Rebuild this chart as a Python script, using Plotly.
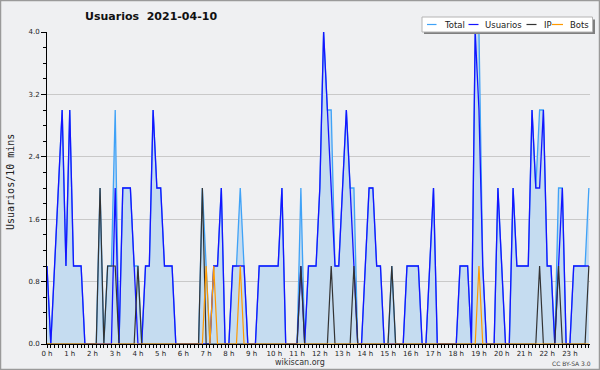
import plotly.graph_objects as go

# 10-minute slots over the day (144 slots)
hour_labels = [f"{h} h" for h in range(24)]
y_tick_labels = ["0.0", "0.8", "1.6", "2.4", "3.2", "4.0"]
y_tick_values = [0, 0.8, 1.6, 2.4, 3.2, 4.0]

usuarios = [
    1, 0, 1, 2, 3, 1,   3, 1, 1, 1, 0, 0,   0, 0, 0, 0, 0, 0,   2, 0, 2, 2, 2, 1,
    0, 0, 1, 1, 3, 2,   2, 1, 1, 1, 0, 0,   0, 0, 0, 0, 0, 0,   0, 0, 1, 1, 2, 0,
    0, 1, 1, 1, 1, 0,   0, 0, 1, 1, 1, 1,   1, 1, 2, 0, 0, 0,   0, 1, 0, 1, 1, 1,
    2, 4, 3, 2, 1, 1,   2, 3, 2, 1, 0, 0,   1, 2, 2, 1, 1, 0,   0, 0, 0, 0, 0, 1,
    1, 1, 1, 0, 0, 1,   2, 0, 0, 0, 0, 0,   0, 1, 1, 1, 0, 4,   3, 1, 0, 0, 0, 2,
    1, 0, 0, 2, 1, 1,   1, 1, 3, 2, 2, 3,   1, 1, 0, 1, 2, 0,   0, 1, 1, 1, 1, 1,
]
ip = [
    0, 0, 0, 0, 0, 0,   0, 0, 0, 0, 0, 0,   0, 0, 2, 0, 1, 1,   1, 0, 0, 0, 0, 0,
    1, 0, 0, 0, 0, 0,   0, 0, 0, 0, 0, 0,   0, 0, 0, 0, 0, 2,   0, 0, 0, 0, 0, 0,
    0, 0, 0, 0, 0, 0,   0, 0, 0, 0, 0, 0,   0, 0, 0, 0, 0, 0,   0, 1, 0, 0, 0, 0,
    0, 0, 0, 1, 0, 0,   0, 0, 0, 1, 0, 0,   0, 0, 0, 0, 0, 0,   0, 1, 0, 0, 0, 0,
    0, 0, 0, 0, 0, 0,   0, 0, 0, 0, 0, 0,   0, 0, 0, 0, 0, 0,   0, 0, 0, 0, 0, 0,
    0, 0, 0, 0, 0, 0,   0, 0, 0, 0, 1, 0,   0, 0, 0, 1, 0, 0,   0, 0, 0, 0, 0, 1,
]
bots = [
    0, 0, 0, 0, 0, 0,   0, 0, 0, 0, 0, 0,   0, 0, 0, 0, 0, 0,   0, 0, 0, 0, 0, 0,
    0, 0, 0, 0, 0, 0,   0, 0, 0, 0, 0, 0,   0, 0, 0, 0, 0, 0,   1, 0, 1, 0, 0, 0,
    0, 0, 0, 1, 0, 0,   0, 0, 0, 0, 0, 0,   0, 0, 0, 0, 0, 0,   0, 0, 0, 0, 0, 0,
    0, 0, 0, 0, 0, 0,   0, 0, 0, 0, 0, 0,   0, 0, 0, 0, 0, 0,   0, 0, 0, 0, 0, 0,
    0, 0, 0, 0, 0, 0,   0, 0, 0, 0, 0, 0,   0, 0, 0, 0, 0, 0,   1, 0, 0, 0, 0, 0,
    0, 0, 0, 0, 0, 0,   0, 0, 0, 0, 0, 0,   0, 0, 0, 0, 0, 0,   0, 0, 0, 0, 0, 0,
]
total = [
    1, 0, 1, 2, 3, 1,   3, 1, 1, 1, 0, 0,   0, 0, 2, 0, 1, 1,   3, 0, 2, 2, 2, 1,
    1, 0, 1, 1, 3, 2,   2, 1, 1, 1, 0, 0,   0, 0, 0, 0, 0, 2,   1, 0, 1, 1, 2, 0,
    0, 1, 1, 2, 1, 0,   0, 0, 1, 1, 1, 1,   1, 1, 2, 0, 0, 0,   0, 2, 0, 1, 1, 1,
    2, 4, 3, 3, 1, 1,   2, 3, 2, 2, 0, 0,   1, 2, 2, 1, 1, 0,   0, 1, 0, 0, 0, 1,
    1, 1, 1, 0, 0, 1,   2, 0, 0, 0, 0, 0,   0, 1, 1, 1, 0, 4,   4, 1, 0, 0, 0, 2,
    1, 0, 0, 2, 1, 1,   1, 1, 3, 2, 3, 3,   1, 1, 0, 2, 2, 0,   0, 1, 1, 1, 1, 2,
]
slots = list(range(len(total)))

W, H = 600, 370
L, R, T, B = 47, 10, 32, 26
PW, PH = W - L - R, H - T - B


def px(x):
    return (x - L) / PW


def py(y):
    return (H - B - y) / PH


C_TOTAL = "#3fa2f7"
C_USU = "#1414ff"
C_IP = "#333333"
C_BOTS = "#ff9a00"
BG = "#eff0f2"

fig = go.Figure()
fig.add_trace(go.Scatter(x=slots, y=total, mode="lines", name="Total",
                         line=dict(color=C_TOTAL, width=1.3),
                         fill="tozeroy", fillcolor="#c5dcf0"))
fig.add_trace(go.Scatter(x=slots, y=usuarios, mode="lines", name="Usuarios",
                         line=dict(color=C_USU, width=1.3)))
fig.add_trace(go.Scatter(x=slots, y=ip, mode="lines", name="IP",
                         line=dict(color=C_IP, width=1.2)))
fig.add_trace(go.Scatter(x=slots, y=bots, mode="lines", name="Bots",
                         line=dict(color=C_BOTS, width=1.2)))

shapes = []
# outer frame
shapes.append(dict(type="rect", xref="paper", yref="paper",
                   x0=px(0.5), x1=px(W - 0.5), y0=py(0.5), y1=py(H - 0.5),
                   line=dict(color="#9a9a9a", width=1.5), fillcolor="rgba(0,0,0,0)",
                   layer="above"))
# legend shadow + box
shapes.append(dict(type="rect", xref="paper", yref="paper",
                   x0=px(424), x1=px(595), y0=py(19.5), y1=py(34),
                   line=dict(width=0), fillcolor="#7f7f7f", layer="above"))
shapes.append(dict(type="rect", xref="paper", yref="paper",
                   x0=px(422), x1=px(592.5), y0=py(17), y1=py(32),
                   line=dict(color="#b4b4b4", width=1), fillcolor="#ffffff", layer="above"))

legend_items = [("Total", C_TOTAL, 427, 436.5, 441.5),
                ("Usuarios", C_USU, 468.5, 478.5, 483),
                ("IP", C_IP, 526.5, 536.5, 541.5),
                ("Bots", C_BOTS, 552, 563, 567.5)]
annotations = []
for name, col, lx0, lx1, tx in legend_items:
    shapes.append(dict(type="line", xref="paper", yref="paper",
                       x0=px(lx0), x1=px(lx1), y0=py(24.5), y1=py(24.5),
                       line=dict(color=col, width=1.2), layer="above"))
    annotations.append(dict(text=name, xref="paper", yref="paper",
                            x=px(tx), y=py(24.5), xanchor="left", yanchor="middle",
                            showarrow=False,
                            font=dict(family="DejaVu Sans", size=8.5, color="#222222")))

annotations += [
    dict(text="<b>Usuarios  2021-04-10</b>", xref="paper", yref="paper",
         x=px(151), y=py(17), xanchor="center", yanchor="middle", showarrow=False,
         font=dict(family="DejaVu Sans", size=11, color="#111111")),
    dict(text="Usuarios/10 mins", xref="paper", yref="paper",
         x=px(10), y=py(182), xanchor="center", yanchor="middle", showarrow=False,
         textangle=-90, font=dict(family="DejaVu Sans Mono", size=10, color="#222222")),
    dict(text="wikiscan.org", xref="paper", yref="paper",
         x=px(300), y=py(362), xanchor="center", yanchor="middle", showarrow=False,
         font=dict(family="DejaVu Sans", size=8, color="#333333")),
    dict(text="CC BY-SA 3.0", xref="paper", yref="paper",
         x=px(571), y=py(363), xanchor="center", yanchor="middle", showarrow=False,
         font=dict(family="DejaVu Sans", size=6, color="#444444")),
]

fig.update_layout(
    width=W, height=H,
    margin=dict(l=L, r=R, t=T, b=B, pad=0),
    paper_bgcolor=BG, plot_bgcolor=BG,
    showlegend=False,
    shapes=shapes, annotations=annotations,
    font=dict(family="DejaVu Sans", size=7, color="#222222"),
)
fig.update_xaxes(
    range=[0, 143.3], showgrid=False, zeroline=False,
    showline=True, linecolor="#000000", linewidth=1,
    tickmode="array", tickvals=[h * 6 for h in range(24)], ticktext=hour_labels,
    ticks="outside", ticklen=3, tickcolor="#000000", tickwidth=1,
    tickfont=dict(family="DejaVu Sans", size=7, color="#222222"),
    minor=dict(tickmode="array", tickvals=slots, ticks="outside", ticklen=3,
               tickcolor="#000000", tickwidth=1, showgrid=False),
)
fig.update_yaxes(
    range=[0, 4.0], zeroline=False,
    showgrid=True, gridcolor="#c9c9c9", gridwidth=1,
    showline=True, linecolor="#000000", linewidth=1,
    tickmode="array", tickvals=y_tick_values, ticktext=y_tick_labels,
    ticks="outside", ticklen=5, tickcolor="#000000", tickwidth=1,
    tickfont=dict(family="DejaVu Sans", size=7, color="#222222"),
    minor=dict(dtick=0.2, ticks="outside", ticklen=3, tickcolor="#000000",
               tickwidth=1, showgrid=False),
)

fig.write_html("out.html", config={"displayModeBar": False},
               post_script="document.body.style.margin='0px';")
